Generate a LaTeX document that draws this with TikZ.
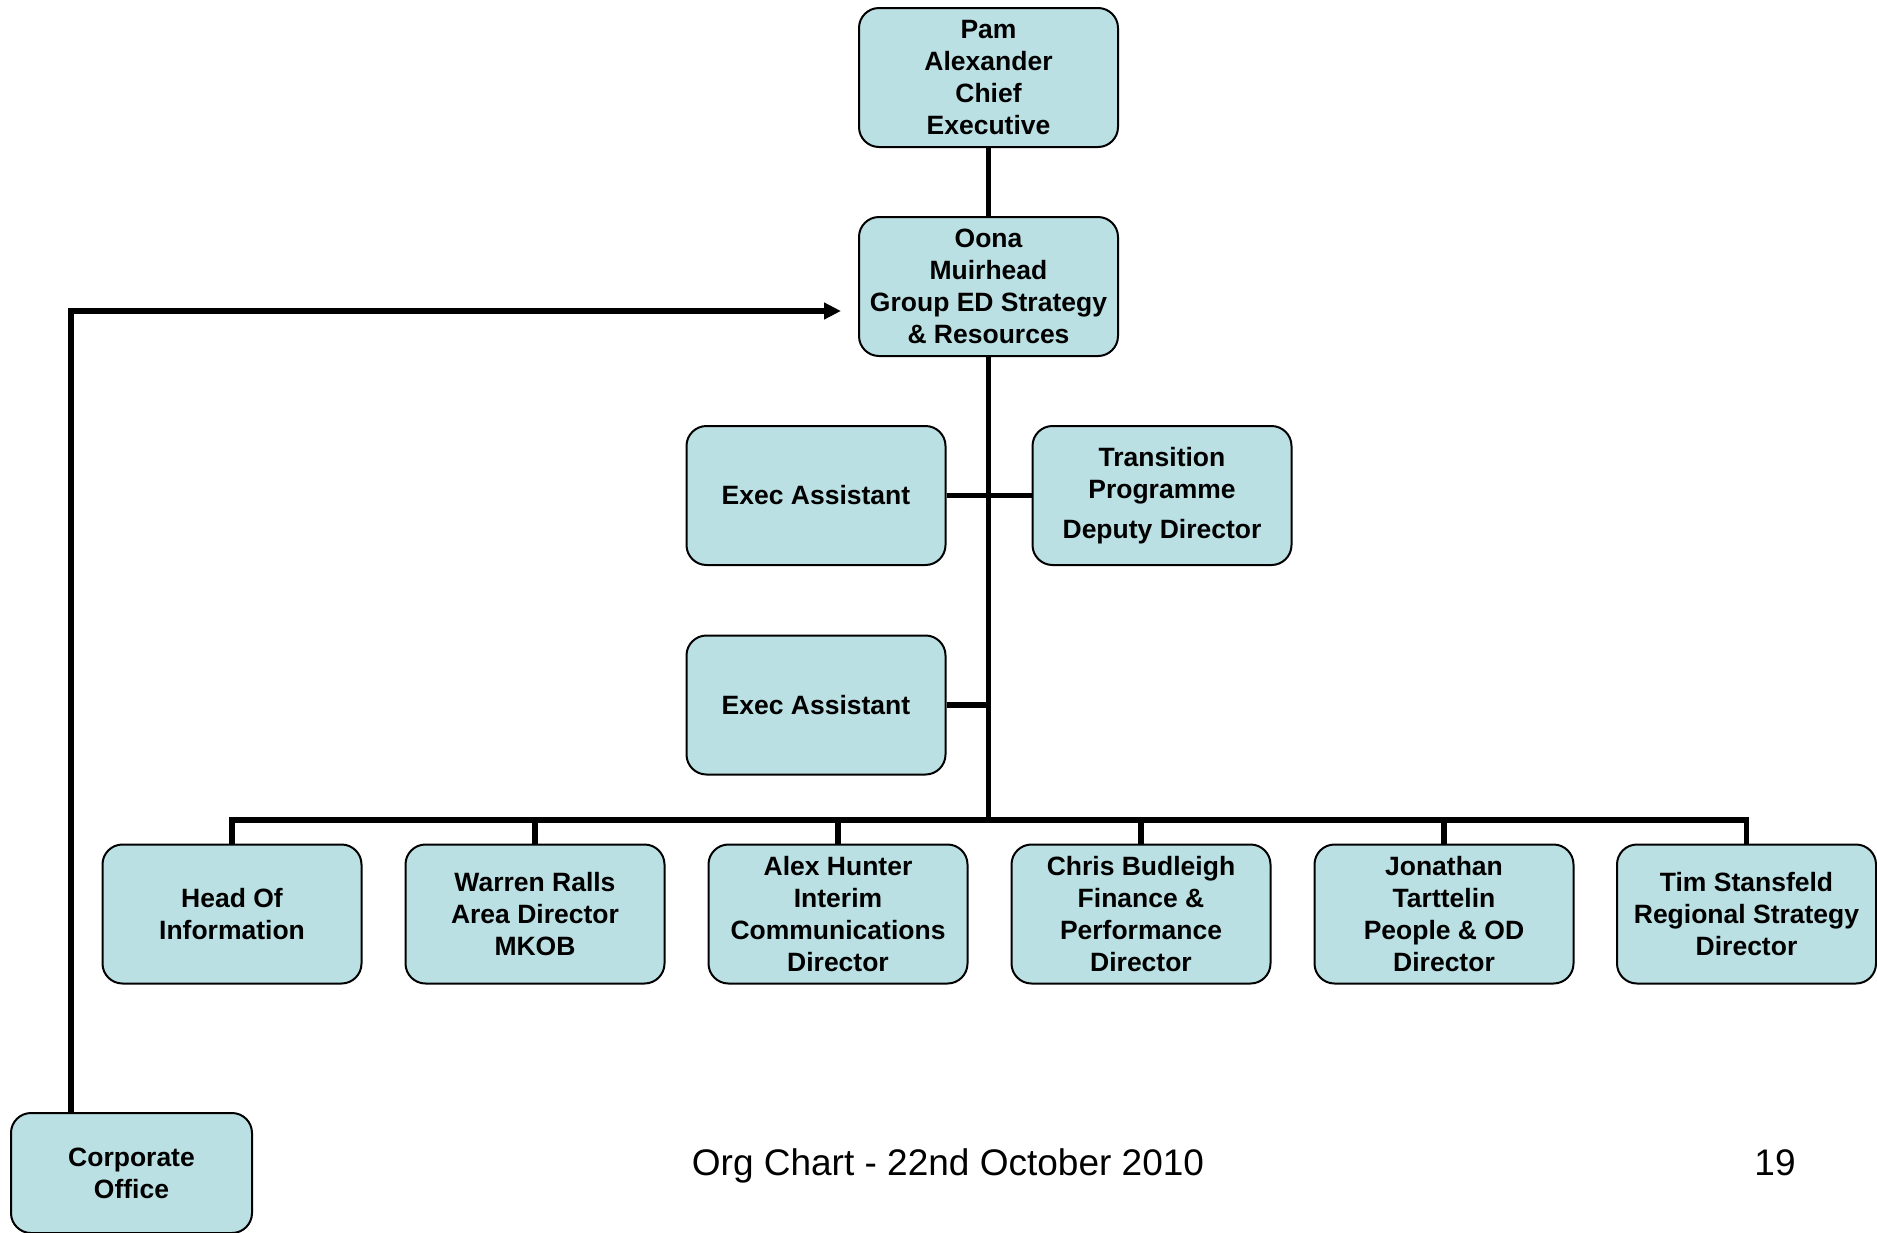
\documentclass[tikz,border=0pt]{standalone}
\usepackage{fontspec}
\setmainfont{Liberation Sans}
\usetikzlibrary{arrows.meta}
\definecolor{boxfill}{HTML}{BBE0E3}
\newcommand{\orgboxfont}{\fontsize{26.5}{32}\selectfont\bfseries}
\newcommand{\orgfootfont}{\fontsize{37}{44}\selectfont}
\tikzset{
  orgbox/.style={draw=black, line width=2pt, fill=boxfill, rounded corners=20pt,
    minimum width=259pt, minimum height=139pt, inner sep=0pt, align=center,
    font=\orgboxfont},
  conn/.style={draw=black, line width=5.5pt},
  foot/.style={anchor=base, inner sep=0pt, font=\orgfootfont}
}
\begin{document}
\begin{tikzpicture}[x=1pt,y=-1pt]
\useasboundingbox (0,0) rectangle (1877,1232);
% boxes
\node[orgbox] (pam) at (988.5,77.5) {Pam\\Alexander\\Chief\\Executive};
\node[orgbox] (oona) at (988.5,286.5) {Oona\\Muirhead\\Group ED Strategy\\\& Resources};
\node[orgbox] (ea1) at (816,495.5) {Exec Assistant};
\node[orgbox] (tp) at (1162,495.5) {Transition\\Programme\\[8pt]Deputy Director};
\node[orgbox] (ea2) at (816,705) {Exec Assistant};
\node[orgbox] (b1) at (232,914) {Head Of\\Information};
\node[orgbox] (b2) at (535,914) {Warren Ralls\\Area Director\\MKOB};
\node[orgbox] (b3) at (838,914) {Alex Hunter\\Interim\\Communications\\Director};
\node[orgbox] (b4) at (1141,914) {Chris Budleigh\\Finance \&\\Performance\\Director};
\node[orgbox] (b5) at (1444,914) {Jonathan\\Tarttelin\\People \& OD\\Director};
\node[orgbox] (b6) at (1746.5,914) {Tim Stansfeld\\Regional Strategy\\Director};
\node[orgbox, minimum width=241pt, minimum height=120pt] (co) at (131.5,1173) {Corporate\\Office};
% coordinates
\coordinate (bus) at (989,820);
\coordinate (corner) at (71,311);
% connectors
\draw[conn] (pam.south) -- (oona.north);
\draw[conn] (oona.south) -- (oona.south |- bus);
\draw[conn] (ea1.east) -- (tp.west);
\draw[conn] (ea2.east) -- (ea2.east -| oona.south);
\draw[conn] (b1.north) -- (b1.north |- bus) -- (b6.north |- bus) -- (b6.north);
\foreach \b in {b2,b3,b4,b5} {
  \draw[conn] (\b.north) -- (\b.north |- bus);
}
\draw[conn, -{Triangle[length=17pt,width=16pt]}, shorten >=17pt]
  (co.north -| corner) -- (corner) -- (corner -| oona.west);
% footer
\node[foot] (footer) at (948,1175) {Org Chart - 22nd October 2010};
\node[foot] (pagenum) at (1775,1175) {19};
\end{tikzpicture}
\end{document}
